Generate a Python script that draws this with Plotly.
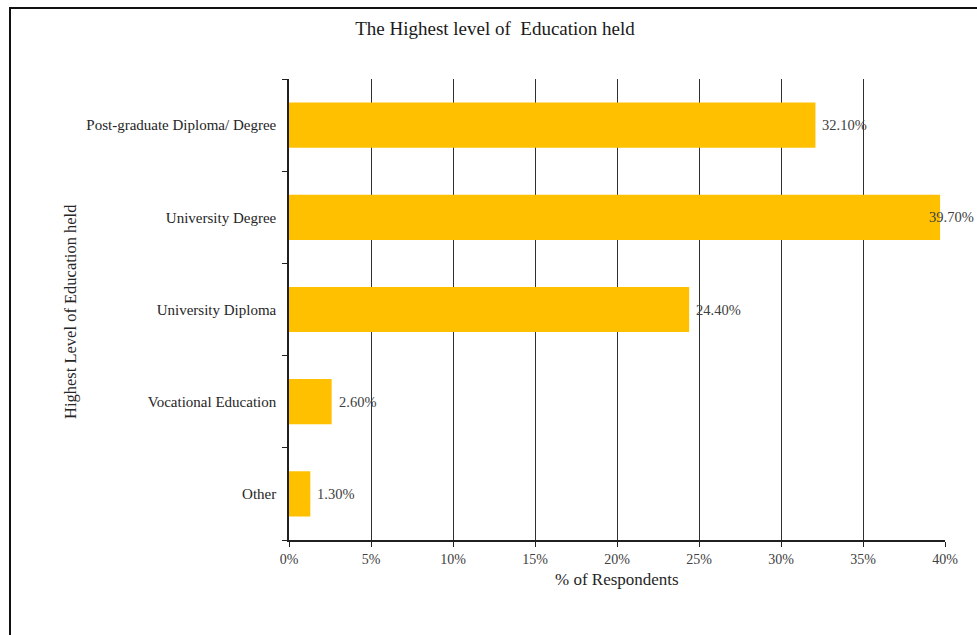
import plotly.graph_objects as go

# Survey results: highest level of education held
categories = ["Other", "Vocational Education", "University Diploma",
              "University Degree", "Post-graduate Diploma/ Degree"]
percentages = [1.3, 2.6, 24.4, 39.7, 32.1]
x_ticks = [0, 5, 10, 15, 20, 25, 30, 35, 40]
x_tick_labels = [f"{t}%" for t in x_ticks]

FONT = "Liberation Serif"
TEXT = "#404040"

W, H = 977, 635
L, R, T, B = 289, 32, 79, 95
PW, PH = W - L - R, H - T - B
X_MAX = 40


def px_to_paper_x(px):
    return (px - L) / PW


def px_to_paper_y(py):
    return (H - B - py) / PH


fig = go.Figure(
    go.Bar(
        x=percentages,
        y=categories,
        orientation="h",
        marker=dict(color="#FFC000", line=dict(width=0)),
        width=0.49,
        hoverinfo="x+y",
    )
)

# Value labels to the right of each bar; a label that would run past the
# figure edge is pulled back so it ends at the edge.
label_font = dict(family=FONT, size=14.5, color=TEXT)
value_labels = []
for cat, v in zip(categories, percentages):
    bar_end_px = L + v / X_MAX * PW
    if bar_end_px + 6 + 46 > W:
        value_labels.append(dict(
            text=f"{v:.2f}%", x=px_to_paper_x(W - 1), y=cat,
            xref="paper", yref="y", xanchor="right", yanchor="middle",
            showarrow=False, font=label_font,
        ))
    else:
        value_labels.append(dict(
            text=f"{v:.2f}%", x=v, y=cat, xref="x", yref="y",
            xanchor="left", yanchor="middle", xshift=5,
            showarrow=False, font=label_font,
        ))

fig.update_layout(
    width=W,
    height=H,
    margin=dict(l=L, r=R, t=T, b=B),
    paper_bgcolor="white",
    plot_bgcolor="white",
    showlegend=False,
    title=dict(
        text="The Highest level of  Education held",
        x=495 / W, xanchor="center", xref="container",
        y=1 - 28 / H, yanchor="middle", yref="container",
        font=dict(family=FONT, size=19, color="#1a1a1a"),
    ),
    xaxis=dict(
        range=[0, X_MAX],
        tickvals=x_ticks,
        ticktext=x_tick_labels,
        showgrid=True,
        gridcolor="#303030",
        gridwidth=1,
        showline=True,
        linecolor="#202020",
        linewidth=1.5,
        ticks="outside",
        ticklen=5,
        tickcolor="#202020",
        tickfont=dict(family=FONT, size=14, color=TEXT),
        zeroline=False,
        fixedrange=True,
    ),
    yaxis=dict(
        showgrid=False,
        showline=True,
        linecolor="#202020",
        linewidth=1.5,
        ticks="outside",
        ticklen=5,
        tickcolor="#202020",
        tickson="boundaries",
        tickfont=dict(family=FONT, size=15, color="#262626"),
        ticklabelstandoff=8,
        zeroline=False,
        fixedrange=True,
    ),
    annotations=value_labels + [
        dict(
            text="% of Respondents",
            x=px_to_paper_x(617), y=px_to_paper_y(579),
            xref="paper", yref="paper",
            xanchor="center", yanchor="middle",
            showarrow=False,
            font=dict(family=FONT, size=17, color="#262626"),
        ),
        dict(
            text="Highest Level of Education held",
            x=px_to_paper_x(70), y=px_to_paper_y(312),
            xref="paper", yref="paper",
            xanchor="center", yanchor="middle",
            textangle=-90,
            showarrow=False,
            font=dict(family=FONT, size=16.5, color="#262626"),
        ),
    ],
    shapes=[
        dict(
            type="rect",
            xref="paper", yref="paper",
            x0=px_to_paper_x(10), x1=px_to_paper_x(990),
            y0=px_to_paper_y(650), y1=px_to_paper_y(8),
            line=dict(color="#111111", width=2),
            fillcolor="rgba(0,0,0,0)",
            layer="below",
        )
    ],
)

fig.write_html("out.html")
